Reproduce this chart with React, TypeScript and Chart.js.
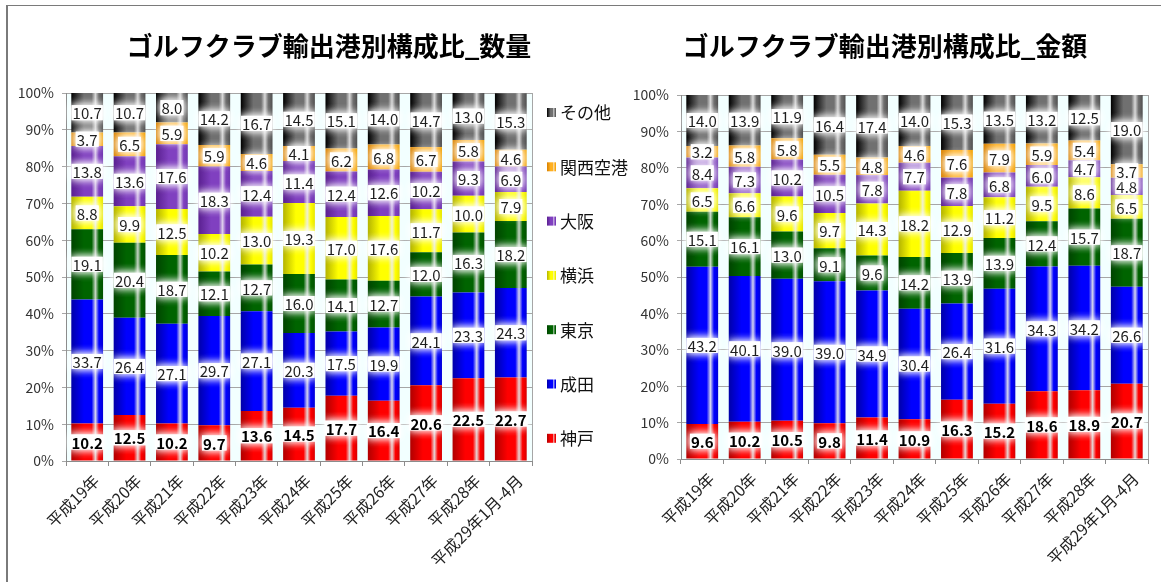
import React, { useEffect, useRef } from 'react';
import { Chart, registerables } from 'chart.js';

Chart.register(...registerables);

const categories = [
  '平成19年', '平成20年', '平成21年', '平成22年', '平成23年', '平成24年',
  '平成25年', '平成26年', '平成27年', '平成28年', '平成29年1月-4月',
];
const seriesNames = ['神戸', '成田', '東京', '横浜', '大阪', '関西空港', 'その他'];

// 数量 (quantity) shares, %
const qtyKobe = [10.2, 12.5, 10.2, 9.7, 13.6, 14.5, 17.7, 16.4, 20.6, 22.5, 22.7];
const qtyNarita = [33.7, 26.4, 27.1, 29.7, 27.1, 20.3, 17.5, 19.9, 24.1, 23.3, 24.3];
const qtyTokyo = [19.1, 20.4, 18.7, 12.1, 12.7, 16.0, 14.1, 12.7, 12.0, 16.3, 18.2];
const qtyYokohama = [8.8, 9.9, 12.5, 10.2, 13.0, 19.3, 17.0, 17.6, 11.7, 10.0, 7.9];
const qtyOsaka = [13.8, 13.6, 17.6, 18.3, 12.4, 11.4, 12.4, 12.6, 10.2, 9.3, 6.9];
const qtyKansai = [3.7, 6.5, 5.9, 5.9, 4.6, 4.1, 6.2, 6.8, 6.7, 5.8, 4.6];
const qtyOther = [10.7, 10.7, 8.0, 14.2, 16.7, 14.5, 15.1, 14.0, 14.7, 13.0, 15.3];

// 金額 (value) shares, %
const valKobe = [9.6, 10.2, 10.5, 9.8, 11.4, 10.9, 16.3, 15.2, 18.6, 18.9, 20.7];
const valNarita = [43.2, 40.1, 39.0, 39.0, 34.9, 30.4, 26.4, 31.6, 34.3, 34.2, 26.6];
const valTokyo = [15.1, 16.1, 13.0, 9.1, 9.6, 14.2, 13.9, 13.9, 12.4, 15.7, 18.7];
const valYokohama = [6.5, 6.6, 9.6, 9.7, 14.3, 18.2, 12.9, 11.2, 9.5, 8.6, 6.5];
const valOsaka = [8.4, 7.3, 10.2, 10.5, 7.8, 7.7, 7.8, 6.8, 6.0, 4.7, 4.8];
const valKansai = [3.2, 5.8, 5.8, 5.5, 4.8, 4.6, 7.6, 7.9, 5.9, 5.4, 3.7];
const valOther = [14.0, 13.9, 11.9, 16.4, 17.4, 14.0, 15.3, 13.5, 13.2, 12.5, 19.0];

const titleQty = 'ゴルフクラブ輸出港別構成比_数量';
const titleVal = 'ゴルフクラブ輸出港別構成比_金額';

const FONT = "'Noto Sans CJK JP', 'Noto Sans', sans-serif";
const BAR_PCT = 0.75;

type Pal = { dark: string; base: string; stripe: string; right: string };
const palettes: Pal[] = [
  { dark: '#B00000', base: '#FF0000', stripe: '#E6D4D4', right: '#D80000' },
  { dark: '#0000A8', base: '#0000FF', stripe: '#D4D4EE', right: '#0000D8' },
  { dark: '#004400', base: '#006400', stripe: '#C4D4C4', right: '#005200' },
  { dark: '#B4B400', base: '#FFFF00', stripe: '#F0F0D4', right: '#E6E600' },
  { dark: '#5A2090', base: '#8040C0', stripe: '#DCCCEC', right: '#7038B0' },
  { dark: '#D88000', base: '#FFB020', stripe: '#F8E4C8', right: '#F0A000' },
  { dark: '#000000', base: '#707070', stripe: '#D8D8D8', right: '#505050' },
];

function grad(ctx: CanvasRenderingContext2D, x0: number, x1: number, p: Pal) {
  const g = ctx.createLinearGradient(x0, 0, x1, 0);
  g.addColorStop(0, p.dark);
  g.addColorStop(0.4, p.base);
  g.addColorStop(0.64, p.base);
  g.addColorStop(0.76, p.stripe);
  g.addColorStop(0.87, p.base);
  g.addColorStop(1, p.right);
  return g;
}

const bgPlugin = {
  id: 'plotBg',
  beforeDraw(chart: any) {
    const { ctx, chartArea: a } = chart;
    if (!a) return;
    ctx.save();
    ctx.fillStyle = '#F2FFFF';
    ctx.fillRect(a.left, a.top, a.right - a.left, a.bottom - a.top);
    ctx.restore();
  },
  afterDraw(chart: any) {
    const { ctx, chartArea: a } = chart;
    ctx.save();
    ctx.strokeStyle = '#A6A6A6';
    ctx.lineWidth = 1;
    ctx.beginPath();
    ctx.moveTo(Math.round(a.right) + 0.5, a.top);
    ctx.lineTo(Math.round(a.right) + 0.5, a.bottom);
    ctx.stroke();
    ctx.restore();
  },
};

const labelPlugin = {
  id: 'segLabels',
  afterDatasetsDraw(chart: any) {
    const ctx: CanvasRenderingContext2D = chart.ctx;
    chart.data.datasets.forEach((ds: any, i: number) => {
      const meta = chart.getDatasetMeta(i);
      meta.data.forEach((el: any, j: number) => {
        const v = ds.data[j];
        const text = Number(v).toFixed(1);
        const bold = i === 0;
        const font = `${bold ? 'bold ' : ''}15px ${FONT}`;
        ctx.save();
        ctx.font = font;
        const tw = ctx.measureText(text).width;
        const cx = el.x;
        const cy = (el.y + el.base) / 2;
        const h = 15;
        ctx.shadowColor = '#FFFFFF';
        ctx.shadowBlur = 8;
        ctx.fillStyle = 'rgba(255,255,255,0.92)';
        ctx.fillRect(cx - tw / 2 - 1, cy - h / 2, tw + 2, h);
        ctx.fillRect(cx - tw / 2 - 1, cy - h / 2, tw + 2, h);
        ctx.restore();
        ctx.save();
        ctx.font = font;
        ctx.fillStyle = bold ? '#000000' : '#1E1E1E';
        ctx.textAlign = 'center';
        ctx.textBaseline = 'middle';
        ctx.fillText(text, cx, cy + 1);
        ctx.restore();
      });
    });
  },
};

function makeTitlePlugin(text: string, x: number, y: number) {
  return {
    id: 'customTitle',
    afterDraw(chart: any) {
      const ctx: CanvasRenderingContext2D = chart.ctx;
      ctx.save();
      ctx.font = `bold 26px ${FONT}`;
      ctx.fillStyle = '#000';
      ctx.textAlign = 'center';
      ctx.textBaseline = 'middle';
      ctx.fillText(text, x, y);
      ctx.restore();
    },
  };
}

function makeLegendPlugin(x: number, top: number, spacing: number) {
  return {
    id: 'customLegend',
    afterDraw(chart: any) {
      const ctx: CanvasRenderingContext2D = chart.ctx;
      const n = chart.data.datasets.length;
      for (let k = 0; k < n; k++) {
        const i = n - 1 - k;
        const ds = chart.data.datasets[i];
        const y = top + k * spacing;
        ctx.save();
        ctx.fillStyle = grad(ctx, x, x + 9, palettes[i]);
        ctx.fillRect(x, y - 5, 9, 9);
        ctx.font = `17px ${FONT}`;
        ctx.fillStyle = '#111';
        ctx.textAlign = 'left';
        ctx.textBaseline = 'middle';
        ctx.fillText(ds.label, x + 13, y);
        ctx.restore();
      }
    },
  };
}

function buildConfig(series: number[][], pad: any, plugins: any[]) {
  return {
    type: 'bar' as const,
    data: {
      labels: categories,
      datasets: series.map((d, i) => ({
        label: seriesNames[i],
        data: d,
        borderWidth: 0,
        barPercentage: BAR_PCT,
        categoryPercentage: 1.0,
        backgroundColor: (c: any) => {
          const p = palettes[i];
          const chart = c.chart;
          const xs = chart.scales && chart.scales.x;
          if (!xs || c.dataIndex === undefined || !chart.chartArea) return p.base;
          const cx = xs.getPixelForValue(c.dataIndex);
          const w = (xs.width / categories.length) * BAR_PCT;
          return grad(chart.ctx, cx - w / 2, cx + w / 2, p);
        },
      })),
    },
    options: {
      responsive: false,
      animation: false as const,
      devicePixelRatio: 1,
      layout: { padding: pad },
      plugins: {
        legend: { display: false },
        title: { display: false },
        tooltip: { enabled: false },
      },
      scales: {
        x: {
          stacked: true,
          grid: { display: true, drawOnChartArea: false, drawTicks: true, tickLength: 5, offset: true, color: '#8C8C8C' },
          border: { display: true, color: '#8C8C8C' },
          ticks: {
            autoSkip: false,
            maxRotation: 45,
            minRotation: 45,
            padding: 5,
            labelOffset: 9,
            color: '#222',
            font: { family: FONT, size: 16 },
          },
          afterFit: (s: any) => { s.height = 110; },
        },
        y: {
          stacked: true,
          min: 0,
          max: 100,
          ticks: {
            stepSize: 10,
            padding: 8,
            color: '#333',
            font: { family: FONT, size: 14 },
            callback: (v: any) => `${v}%`,
          },
          grid: { color: '#A6A6A6', tickLength: 4 },
          border: { color: '#8C8C8C' },
          afterFit: (s: any) => { s.width = 60; },
        },
      },
    },
    plugins: [bgPlugin, labelPlugin, ...plugins],
  };
}

export default function App() {
  const leftRef = useRef<HTMLCanvasElement>(null);
  const rightRef = useRef<HTMLCanvasElement>(null);

  useEffect(() => {
    const left = new Chart(
      leftRef.current as HTMLCanvasElement,
      buildConfig(
        [qtyKobe, qtyNarita, qtyTokyo, qtyYokohama, qtyOsaka, qtyKansai, qtyOther],
        { left: 6, right: 118, top: 93, bottom: 11 },
        [makeTitlePlugin(titleQty, 329, 46), makeLegendPlugin(547, 113, 54.3)]
      ) as any
    );
    const right = new Chart(
      rightRef.current as HTMLCanvasElement,
      buildConfig(
        [valKobe, valNarita, valTokyo, valYokohama, valOsaka, valKansai, valOther],
        { left: 21, right: 13, top: 95, bottom: 13 },
        [makeTitlePlugin(titleVal, 285, 46)]
      ) as any
    );
    return () => {
      left.destroy();
      right.destroy();
    };
  }, []);

  return (
    <div style={{ position: 'fixed', left: 0, top: 0, width: 1161, height: 582, overflow: 'hidden', background: '#fff' }}>
      <div style={{ position: 'absolute', left: 6, top: 5, width: 1200, height: 700, borderLeft: '2px solid #7A7A7A', borderTop: '1px solid #7A7A7A' }} />
      <canvas ref={leftRef} width={650} height={582} style={{ position: 'absolute', left: 0, top: 0, width: 650, height: 582 }} />
      <canvas ref={rightRef} width={561} height={582} style={{ position: 'absolute', left: 600, top: 0, width: 561, height: 582 }} />
    </div>
  );
}
